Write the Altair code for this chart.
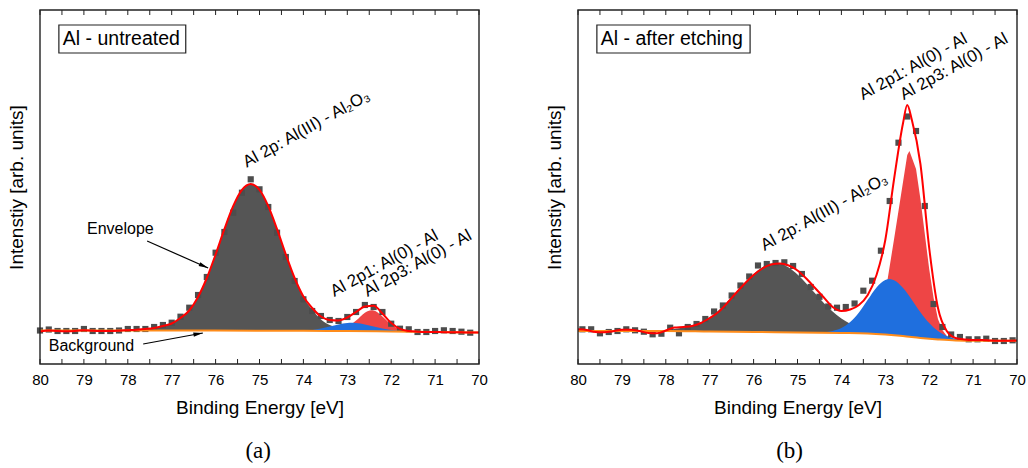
import altair as alt
import pandas as pd

FONT = "Liberation Sans"
INK = "#222222"

# ---------------- shared grids ----------------
E_EVEN = [80.0, 79.8, 79.6, 79.4, 79.2, 79.0, 78.8, 78.6, 78.4, 78.2, 78.0, 77.8, 77.6, 77.4, 77.2,
          77.0, 76.8, 76.6, 76.4, 76.2, 76.0, 75.8, 75.6, 75.4, 75.2, 75.0, 74.8, 74.6, 74.4, 74.2,
          74.0, 73.8, 73.6, 73.4, 73.2, 73.0, 72.8, 72.6, 72.4, 72.2, 72.0, 71.8, 71.6, 71.4, 71.2,
          71.0, 70.8, 70.6, 70.4, 70.2, 70.0]
E_ODD = [79.9, 79.7, 79.5, 79.3, 79.1, 78.9, 78.7, 78.5, 78.3, 78.1, 77.9, 77.7, 77.5, 77.3, 77.1,
         76.9, 76.7, 76.5, 76.3, 76.1, 75.9, 75.7, 75.5, 75.3, 75.1, 74.9, 74.7, 74.5, 74.3, 74.1,
         73.9, 73.7, 73.5, 73.3, 73.1, 72.9, 72.7, 72.5, 72.3, 72.1, 71.9, 71.7, 71.5, 71.3, 71.1,
         70.9, 70.7, 70.5, 70.3, 70.1]
TICK_X = [80, 79.5, 79, 78.5, 78, 77.5, 77, 76.5, 76, 75.5, 75, 74.5, 74, 73.5, 73, 72.5, 72,
          71.5, 71, 70.5, 70]
LABEL_X = [80, 79, 78, 77, 76, 75, 74, 73, 72, 71, 70]
Y_MAX = 354

# ---------------- panel (a): untreated ----------------
A_PTS_X = E_EVEN[:-1]
A_PTS_Y = [33.5, 34.5, 33, 33, 33, 35, 33, 33, 33, 33.5, 35, 35, 35, 37, 39, 41.3, 47.3, 56.3, 69, 87,
           111.3, 132, 151.3, 171.3, 184.7, 174.7, 157, 131.3, 107, 83, 64.7, 53, 48, 44, 43, 47,
           52, 59, 57, 52, 40.3, 35.3, 34.7, 32, 32, 33, 33.7, 33, 32.3, 31.3]
A_ENV_X = E_EVEN
A_ENV_Y = [32.5, 33.5, 33, 32.8, 33, 33.8, 33.2, 33, 33, 33.3, 33.8, 34.3, 35, 36, 38, 40.5, 46, 53.5,
           67, 86, 109.5, 134.8, 157.8, 174.1, 180, 174.1, 157.8, 134.8, 109.5, 86, 67.5, 56, 47.5,
           44, 43.5, 46.5, 52, 57.5, 58.2, 50.5, 41, 35.2, 33, 32.3, 32, 32, 31.8, 31.8, 31.7, 31.5,
           31.5]
A_GRAY_X = [78.0, 77.8, 77.6, 77.4, 77.2, 77.0, 76.8, 76.6, 76.4, 76.2, 76.0, 75.8, 75.6, 75.4, 75.2,
            75.0, 74.8, 74.6, 74.4, 74.2, 74.0, 73.8, 73.6, 73.4, 73.2, 73.0, 72.8, 72.6, 72.4]
A_GRAY_Y = [33.6, 34.2, 34.9, 35.9, 37.8, 40.3, 45.8, 53.3, 66.8, 86, 109.5, 134.8, 157.8, 174.1, 180,
            174.1, 157.8, 134.8, 109.5, 86, 66.8, 54.5, 44.5, 38.9, 35.8, 34.2, 33.5, 33.1, 33]
A_BLUE_X = [74.0, 73.8, 73.6, 73.4, 73.2, 73.0, 72.9, 72.8, 72.6, 72.4, 72.2, 72.0, 71.8, 71.6]
A_BLUE_Y = [33.3, 34.1, 35.5, 37.5, 39.6, 41.1, 41.3, 41.1, 39.6, 37.5, 35.5, 34.1, 33.2, 32.6]
A_RED_X = [73.4, 73.2, 73.0, 72.8, 72.6, 72.45, 72.4, 72.2, 72.0, 71.8, 71.6, 71.4]
A_RED_Y = [33.3, 33.9, 36.7, 43.4, 51.3, 53.7, 53.5, 47.6, 39.6, 34.6, 32.8, 32.2]
A_BG_X = [80, 77, 75, 74, 73, 72, 71, 70]
A_BG_Y = [33.6, 33.5, 33.3, 33.2, 33, 32.6, 32, 31.5]

# ---------------- panel (b): after etching ----------------
B_PTS_X = E_ODD
B_PTS_Y = [34.7, 34.7, 30.7, 32, 33, 34.7, 33.7, 32.3, 29.7, 30.3, 36.3, 30.7, 37, 40, 45, 52.5, 58.5,
           68.5, 78.5, 87.5, 98.5, 100, 101, 101.7, 98, 90, 77, 67.2, 57.5, 56.3, 57, 60.5, 73.3,
           83.3, 113.3, 163, 221.3, 247.5, 233, 158, 60, 37, 29.5, 27, 24.7, 24.7, 25.3, 23, 23, 23.7]
B_ENV_X = [80.0, 79.8, 79.6, 79.4, 79.2, 79.0, 78.8, 78.6, 78.4, 78.2, 78.0, 77.8, 77.6, 77.4, 77.2,
           77.0, 76.8, 76.6, 76.4, 76.2, 76.0, 75.8, 75.6, 75.4, 75.2, 75.0, 74.8, 74.6, 74.4, 74.2,
           74.0, 73.8, 73.6, 73.4, 73.2, 73.0, 72.8, 72.6, 72.5, 72.4, 72.2, 72.0, 71.8, 71.6, 71.4,
           71.2, 71.0, 70.8, 70.6, 70.4, 70.2, 70.0]
B_ENV_Y = [34.8, 34, 32, 31.8, 32.8, 34.2, 34.2, 33, 31, 30.8, 33.5, 36.5, 37, 38, 41, 46, 52, 61, 71,
           80.5, 89, 95.5, 99.5, 100.5, 98.5, 93.5, 85.5, 76, 66.5, 57, 53, 54.5, 59, 69, 89, 124,
           185, 240, 259, 245, 200, 116, 56, 33, 26, 24.5, 24, 24, 23.5, 23.3, 23.3, 23.5]
B_GRAY_X = [78.4, 78.2, 78.0, 77.8, 77.6, 77.4, 77.2, 77.0, 76.8, 76.6, 76.4, 76.2, 76.0, 75.8, 75.6,
            75.4, 75.2, 75.0, 74.8, 74.6, 74.4, 74.2, 74.0, 73.8, 73.6, 73.4, 73.2, 73.0, 72.8]
B_GRAY_Y = [33.1, 33.4, 33.9, 35, 36.5, 38.4, 41.9, 46, 53.5, 62.2, 71.6, 81.3, 90, 96.8, 100.4, 100.3,
            96.5, 89.5, 80.6, 70.7, 61.1, 52.5, 45.5, 40.2, 36.5, 33.8, 32, 30.4, 29.5]
B_BLUE_X = [74.4, 74.2, 74.0, 73.8, 73.6, 73.4, 73.2, 73.0, 72.9, 72.8, 72.6, 72.4, 72.2, 72.0, 71.8,
            71.6, 71.4, 71.2, 71.0]
B_BLUE_Y = [31.8, 33, 35.9, 41.9, 51.6, 64.2, 76.6, 83.9, 85, 83.7, 76.2, 64.6, 51.8, 40.9, 32.9, 28,
            25.2, 24, 23.3]
B_RED_X = [72.95, 72.8, 72.7, 72.6, 72.5, 72.45, 72.3, 72.2, 72.1, 72.0, 71.9, 71.8, 71.7, 71.6, 71.5,
           71.4]
B_RED_Y = [84, 125, 153, 181, 209, 213, 195, 165, 130, 95, 66, 45, 34, 28, 25, 23.5]
B_BG_X = [80, 78, 77, 76, 75, 74, 73.4, 73.0, 72.6, 72.2, 71.8, 71.4, 71.0, 70]
B_BG_Y = [33, 33, 32.5, 32, 31.5, 31, 30.5, 29.5, 28, 26, 24.5, 23.5, 23.3, 23.3]

# ---------------- annotations (data coordinates) ----------------
A_BOX = dict(x=79.57, x2=76.68, y=311, y2=339, tx=79.48, ty=325, text="Al - untreated")
B_BOX = dict(x=79.57, x2=76.08, y=311, y2=339, tx=79.48, ty=325, text="Al - after etching")
A_ROT = [dict(x=75.29, y=196.3, text="Al 2p: Al(III) - Al\u2082O\u2083"),
         dict(x=73.30, y=67, text="Al 2p1: Al(0) - Al"),
         dict(x=72.54, y=67, text="Al 2p3: Al(0) - Al")]
B_ROT = [dict(x=75.75, y=113, text="Al 2p: Al(III) - Al\u2082O\u2083"),
         dict(x=73.51, y=263.7, text="Al 2p1: Al(0) - Al"),
         dict(x=72.58, y=263.7, text="Al 2p3: Al(0) - Al")]
A_NOTES = [dict(x=78.93, y=135, text="Envelope"), dict(x=79.8, y=18, text="Background")]
A_ARROWS = [dict(x=77.56, y=123, x2=76.17, y2=96, ang=114),
            dict(x=77.65, y=20, x2=76.29, y2=31, ang=80)]
CAPTIONS = {"a": dict(x=75.03, y=-87, text="(a)"), "b": dict(x=75.18, y=-87, text="(b)")}

X_SCALE = alt.Scale(domain=[80, 70], nice=False, zero=False)
Y_SCALE = alt.Scale(domain=[0, Y_MAX], nice=False)
X_AXIS = alt.Axis(values=LABEL_X, format="d", ticks=False, domain=False, grid=False,
                  labelFlush=False, labelOverlap=False,
                  labelFont=FONT, labelFontSize=15, labelColor="black", labelPadding=8,
                  title="Binding Energy [eV]", titleFont=FONT, titleFontSize=19,
                  titleFontWeight="normal", titleColor="black", titlePadding=11)
Y_AXIS = alt.Axis(labels=False, ticks=False, domain=False, grid=False,
                  title="Intenstiy [arb. units]", titleFont=FONT, titleFontSize=19,
                  titleFontWeight="normal", titleColor="black", titlePadding=14)


def enc(x="x", y="y"):
    return dict(x=alt.X(f"{x}:Q", scale=X_SCALE, axis=X_AXIS),
                y=alt.Y(f"{y}:Q", scale=Y_SCALE, axis=Y_AXIS))


def xy(xs, ys):
    return pd.DataFrame({"x": xs, "y": ys})


def panel(P, box, rots, caption, notes=None, arrows=None, red_interp="monotone"):
    layers = []
    layers.append(alt.Chart(xy(P["gray_x"], P["gray_y"])).mark_area(
        color="#555555", interpolate="monotone").encode(**enc()))
    layers.append(alt.Chart(xy(P["red_x"], P["red_y"])).mark_area(
        color="#ee4545", interpolate=red_interp).encode(**enc()))
    layers.append(alt.Chart(xy(P["blue_x"], P["blue_y"])).mark_area(
        color="#1f6fde", interpolate="monotone").encode(**enc()))
    # white below the background line
    layers.append(alt.Chart(xy(P["bg_x"], P["bg_y"])).mark_area(
        color="white", interpolate="monotone").encode(**enc()))
    layers.append(alt.Chart(xy(P["pts_x"], P["pts_y"])).mark_square(
        size=38, color="#4d4d4d", opacity=1).encode(**enc()))
    layers.append(alt.Chart(xy(P["bg_x"], P["bg_y"])).mark_line(
        color="#ff8c1a", strokeWidth=2, interpolate="monotone").encode(**enc()))
    layers.append(alt.Chart(xy(P["env_x"], P["env_y"])).mark_line(
        color="#ff0000", strokeWidth=2, interpolate="monotone").encode(**enc()))
    # tick marks inside the frame
    tdf = pd.DataFrame({"x": TICK_X, "y0": [0] * len(TICK_X), "y1": [5] * len(TICK_X),
                        "t0": [Y_MAX - 5] * len(TICK_X), "t1": [Y_MAX] * len(TICK_X)})
    layers.append(alt.Chart(tdf).mark_rule(color=INK, strokeWidth=1).encode(
        x=alt.X("x:Q", scale=X_SCALE, axis=X_AXIS),
        y=alt.Y("y0:Q", scale=Y_SCALE, axis=Y_AXIS), y2="y1:Q"))
    layers.append(alt.Chart(tdf).mark_rule(color=INK, strokeWidth=1).encode(
        x=alt.X("x:Q", scale=X_SCALE, axis=X_AXIS),
        y=alt.Y("t0:Q", scale=Y_SCALE, axis=Y_AXIS), y2="t1:Q"))
    # boxed label
    bdf = pd.DataFrame([box])
    layers.append(alt.Chart(bdf).mark_rect(filled=False, color=INK, strokeWidth=1.2).encode(
        x=alt.X("x:Q", scale=X_SCALE, axis=X_AXIS), x2="x2:Q",
        y=alt.Y("y:Q", scale=Y_SCALE, axis=Y_AXIS), y2="y2:Q"))
    layers.append(alt.Chart(bdf).mark_text(font=FONT, fontSize=19.5, align="left",
                                           baseline="middle", color="black").encode(
        x=alt.X("tx:Q", scale=X_SCALE, axis=X_AXIS),
        y=alt.Y("ty:Q", scale=Y_SCALE, axis=Y_AXIS), text="text:N"))
    # rotated peak labels
    layers.append(alt.Chart(pd.DataFrame(rots)).mark_text(
        font=FONT, fontSize=16.8, align="left", baseline="alphabetic", angle=331,
        color="black").encode(**enc(), text="text:N"))
    if notes:
        layers.append(alt.Chart(pd.DataFrame(notes)).mark_text(
            font=FONT, fontSize=16, align="left", baseline="middle", color="black").encode(
            **enc(), text="text:N"))
    if arrows:
        adf = pd.DataFrame(arrows)
        layers.append(alt.Chart(adf).mark_rule(color="black", strokeWidth=1.2).encode(
            x=alt.X("x:Q", scale=X_SCALE, axis=X_AXIS), x2="x2:Q",
            y=alt.Y("y:Q", scale=Y_SCALE, axis=Y_AXIS), y2="y2:Q"))
        for a in arrows:
            layers.append(alt.Chart(pd.DataFrame([a])).mark_point(
                shape="M0,0L-0.45,2L0.45,2Z", filled=True, color="black", opacity=1,
                size=90, angle=a["ang"]).encode(**enc("x2", "y2")))
    # caption below
    layers.append(alt.Chart(pd.DataFrame([caption])).mark_text(
        font="Liberation Serif", fontSize=23, align="center", baseline="middle",
        color="black").encode(**enc(), text="text:N"))
    # frame
    layers.append(alt.Chart(pd.DataFrame([{"x": 80, "x2": 70, "y": 0, "y2": Y_MAX}])).mark_rect(
        filled=False, color=INK, strokeWidth=1.4).encode(
        x=alt.X("x:Q", scale=X_SCALE, axis=X_AXIS), x2="x2:Q",
        y=alt.Y("y:Q", scale=Y_SCALE, axis=Y_AXIS), y2="y2:Q"))
    return alt.layer(*layers).properties(width=439, height=354)


PA = dict(pts_x=A_PTS_X, pts_y=A_PTS_Y, env_x=A_ENV_X, env_y=A_ENV_Y, gray_x=A_GRAY_X,
          gray_y=A_GRAY_Y, blue_x=A_BLUE_X, blue_y=A_BLUE_Y, red_x=A_RED_X, red_y=A_RED_Y,
          bg_x=A_BG_X, bg_y=A_BG_Y)
PB = dict(pts_x=B_PTS_X, pts_y=B_PTS_Y, env_x=B_ENV_X, env_y=B_ENV_Y, gray_x=B_GRAY_X,
          gray_y=B_GRAY_Y, blue_x=B_BLUE_X, blue_y=B_BLUE_Y, red_x=B_RED_X, red_y=B_RED_Y,
          bg_x=B_BG_X, bg_y=B_BG_Y)

left = panel(PA, A_BOX, A_ROT, CAPTIONS["a"], notes=A_NOTES, arrows=A_ARROWS)
right = panel(PB, B_BOX, B_ROT, CAPTIONS["b"], red_interp="linear")

chart = alt.hconcat(left, right, spacing=99, bounds="flush").properties(
    padding={"left": 7, "top": 9, "right": 2, "bottom": 5},
    background="white",
).configure_view(stroke=None)

chart.save("out.html", embed_options={"renderer": "svg", "actions": False})
